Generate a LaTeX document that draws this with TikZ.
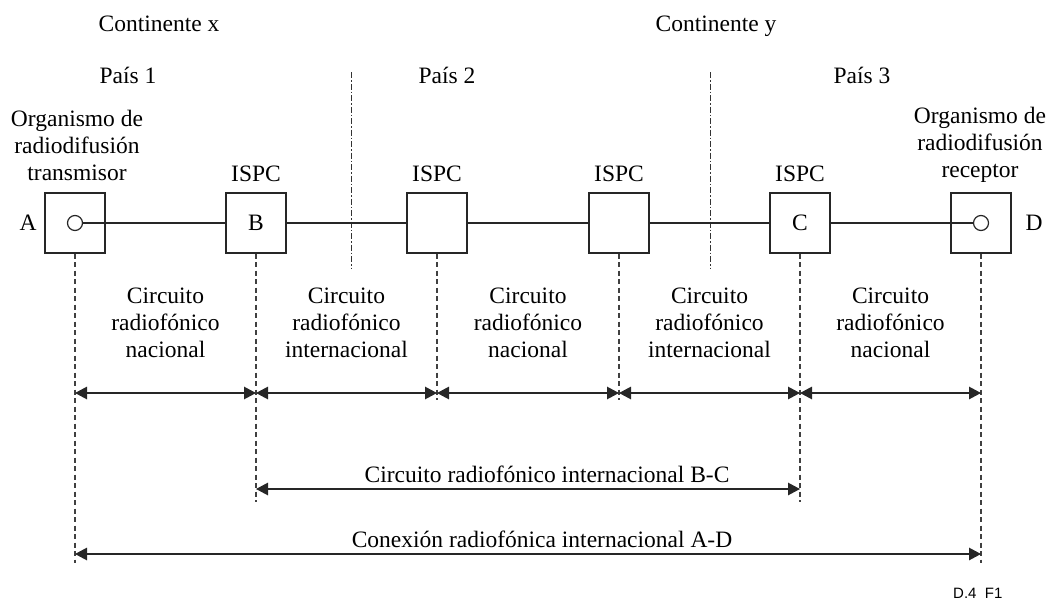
\documentclass[tikz,border=0pt]{standalone}
\usepackage{fontspec}
\setmainfont{Liberation Serif}
\newfontfamily\figsans{Liberation Sans}
\usetikzlibrary{arrows.meta}
\begin{document}
\begin{tikzpicture}[x=1pt,y=-1pt,
  ln/.style={line width=1.2pt,draw=black!85},
  box/.style={ln,rectangle,minimum width=60pt,minimum height=60pt,inner sep=0pt,fill=white},
  ring/.style={ln,circle,minimum size=15pt,inner sep=0pt},
  txt/.style={font=\fontsize{23.5}{27}\selectfont,inner sep=0pt,align=center},
  guide/.style={line width=1.1pt,draw=black!75,dash pattern=on 5pt off 3.5pt},
  border/.style={line width=1pt,draw=black!80,dash pattern=on 6pt off 2pt on 1.5pt off 2pt},
  dim/.style={ln,{Triangle[length=12pt,width=12.5pt]}-{Triangle[length=12pt,width=12.5pt]}}
]
\useasboundingbox (0,0) rectangle (1048,602);

% boundaries between countries
\coordinate (b1t) at (351,72); \coordinate (b1b) at (351,268);
\coordinate (b2t) at (710,72); \coordinate (b2b) at (710,268);
\draw[border] (b1t) -- (b1b);
\draw[border] (b2t) -- (b2b);

% headings
\node[txt,anchor=base] (cx) at (159,32) {Continente x};
\node[txt,anchor=base] (cy) at (716,32) {Continente y};
\node[txt,anchor=base] (p1) at (128,83) {País 1};
\node[txt,anchor=base] (p2) at (447,83) {País 2};
\node[txt,anchor=base] (p3) at (862,83) {País 3};

\node[txt] (orgA) at (77,145) {Organismo de\\radiodifusión\\transmisor};
\node[txt] (orgD) at (980,145) {Organismo de\\radiodifusión\\receptor};
\node[txt,anchor=base] (iB) at (256,181) {ISPC};
\node[txt,anchor=base] (i2) at (437,181) {ISPC};
\node[txt,anchor=base] (i3) at (619,181) {ISPC};
\node[txt,anchor=base] (iC) at (800,181) {ISPC};

% boxes
\node[box] (A) at (75,223) {};
\node[box,font=\fontsize{23.5}{27}\selectfont] (B) at (256,223) {B};
\node[box] (M1) at (437,223) {};
\node[box] (M2) at (619,223) {};
\node[box,font=\fontsize{23.5}{27}\selectfont] (C) at (800,223) {C};
\node[box] (D) at (981,223) {};
\node[ring] (ca) at (A.center) {};
\node[ring] (cd) at (D.center) {};
\node[txt] (lA) at (28,223) {A};
\node[txt] (lD) at (1034,223) {D};

% transmission path
\draw[ln] (ca) -- (B);
\draw[ln] (B) -- (M1);
\draw[ln] (M1) -- (M2);
\draw[ln] (M2) -- (C);
\draw[ln] (C) -- (cd);

% guide lines
\coordinate (g1) at (0,400);
\coordinate (g2) at (0,502);
\coordinate (g3) at (0,563);
\draw[guide] (A.south) -- (A.south |- g3);
\draw[guide] (B.south) -- (B.south |- g2);
\draw[guide] (M1.south) -- (M1.south |- g1);
\draw[guide] (M2.south) -- (M2.south |- g1);
\draw[guide] (C.south) -- (C.south |- g2);
\draw[guide] (D.south) -- (D.south |- g3);

% section labels
\node[txt] (s1) at (165.5,323) {Circuito\\radiofónico\\nacional};
\node[txt] (s2) at (346.5,323) {Circuito\\radiofónico\\internacional};
\node[txt] (s3) at (528,323) {Circuito\\radiofónico\\nacional};
\node[txt] (s4) at (709.5,323) {Circuito\\radiofónico\\internacional};
\node[txt] (s5) at (890.5,323) {Circuito\\radiofónico\\nacional};

% dimension arrows
\coordinate (r1) at (0,393);
\coordinate (r2) at (0,489);
\coordinate (r3) at (0,554);
\draw[dim] (A.south |- r1) -- (B.south |- r1);
\draw[dim] (B.south |- r1) -- (M1.south |- r1);
\draw[dim] (M1.south |- r1) -- (M2.south |- r1);
\draw[dim] (M2.south |- r1) -- (C.south |- r1);
\draw[dim] (C.south |- r1) -- (D.south |- r1);
\draw[dim] (B.south |- r2) -- (C.south |- r2);
\draw[dim] (A.south |- r3) -- (D.south |- r3);

\node[txt,anchor=base] (tBC) at (547,482) {Circuito radiofónico internacional B-C};
\node[txt,anchor=base] (tAD) at (542,547) {Conexión radiofónica internacional A-D};

\node[font=\figsans\fontsize{15}{18}\selectfont,anchor=base west,inner sep=0pt] (ref) at (953,598) {D.4 \ F1};
\end{tikzpicture}
\end{document}
